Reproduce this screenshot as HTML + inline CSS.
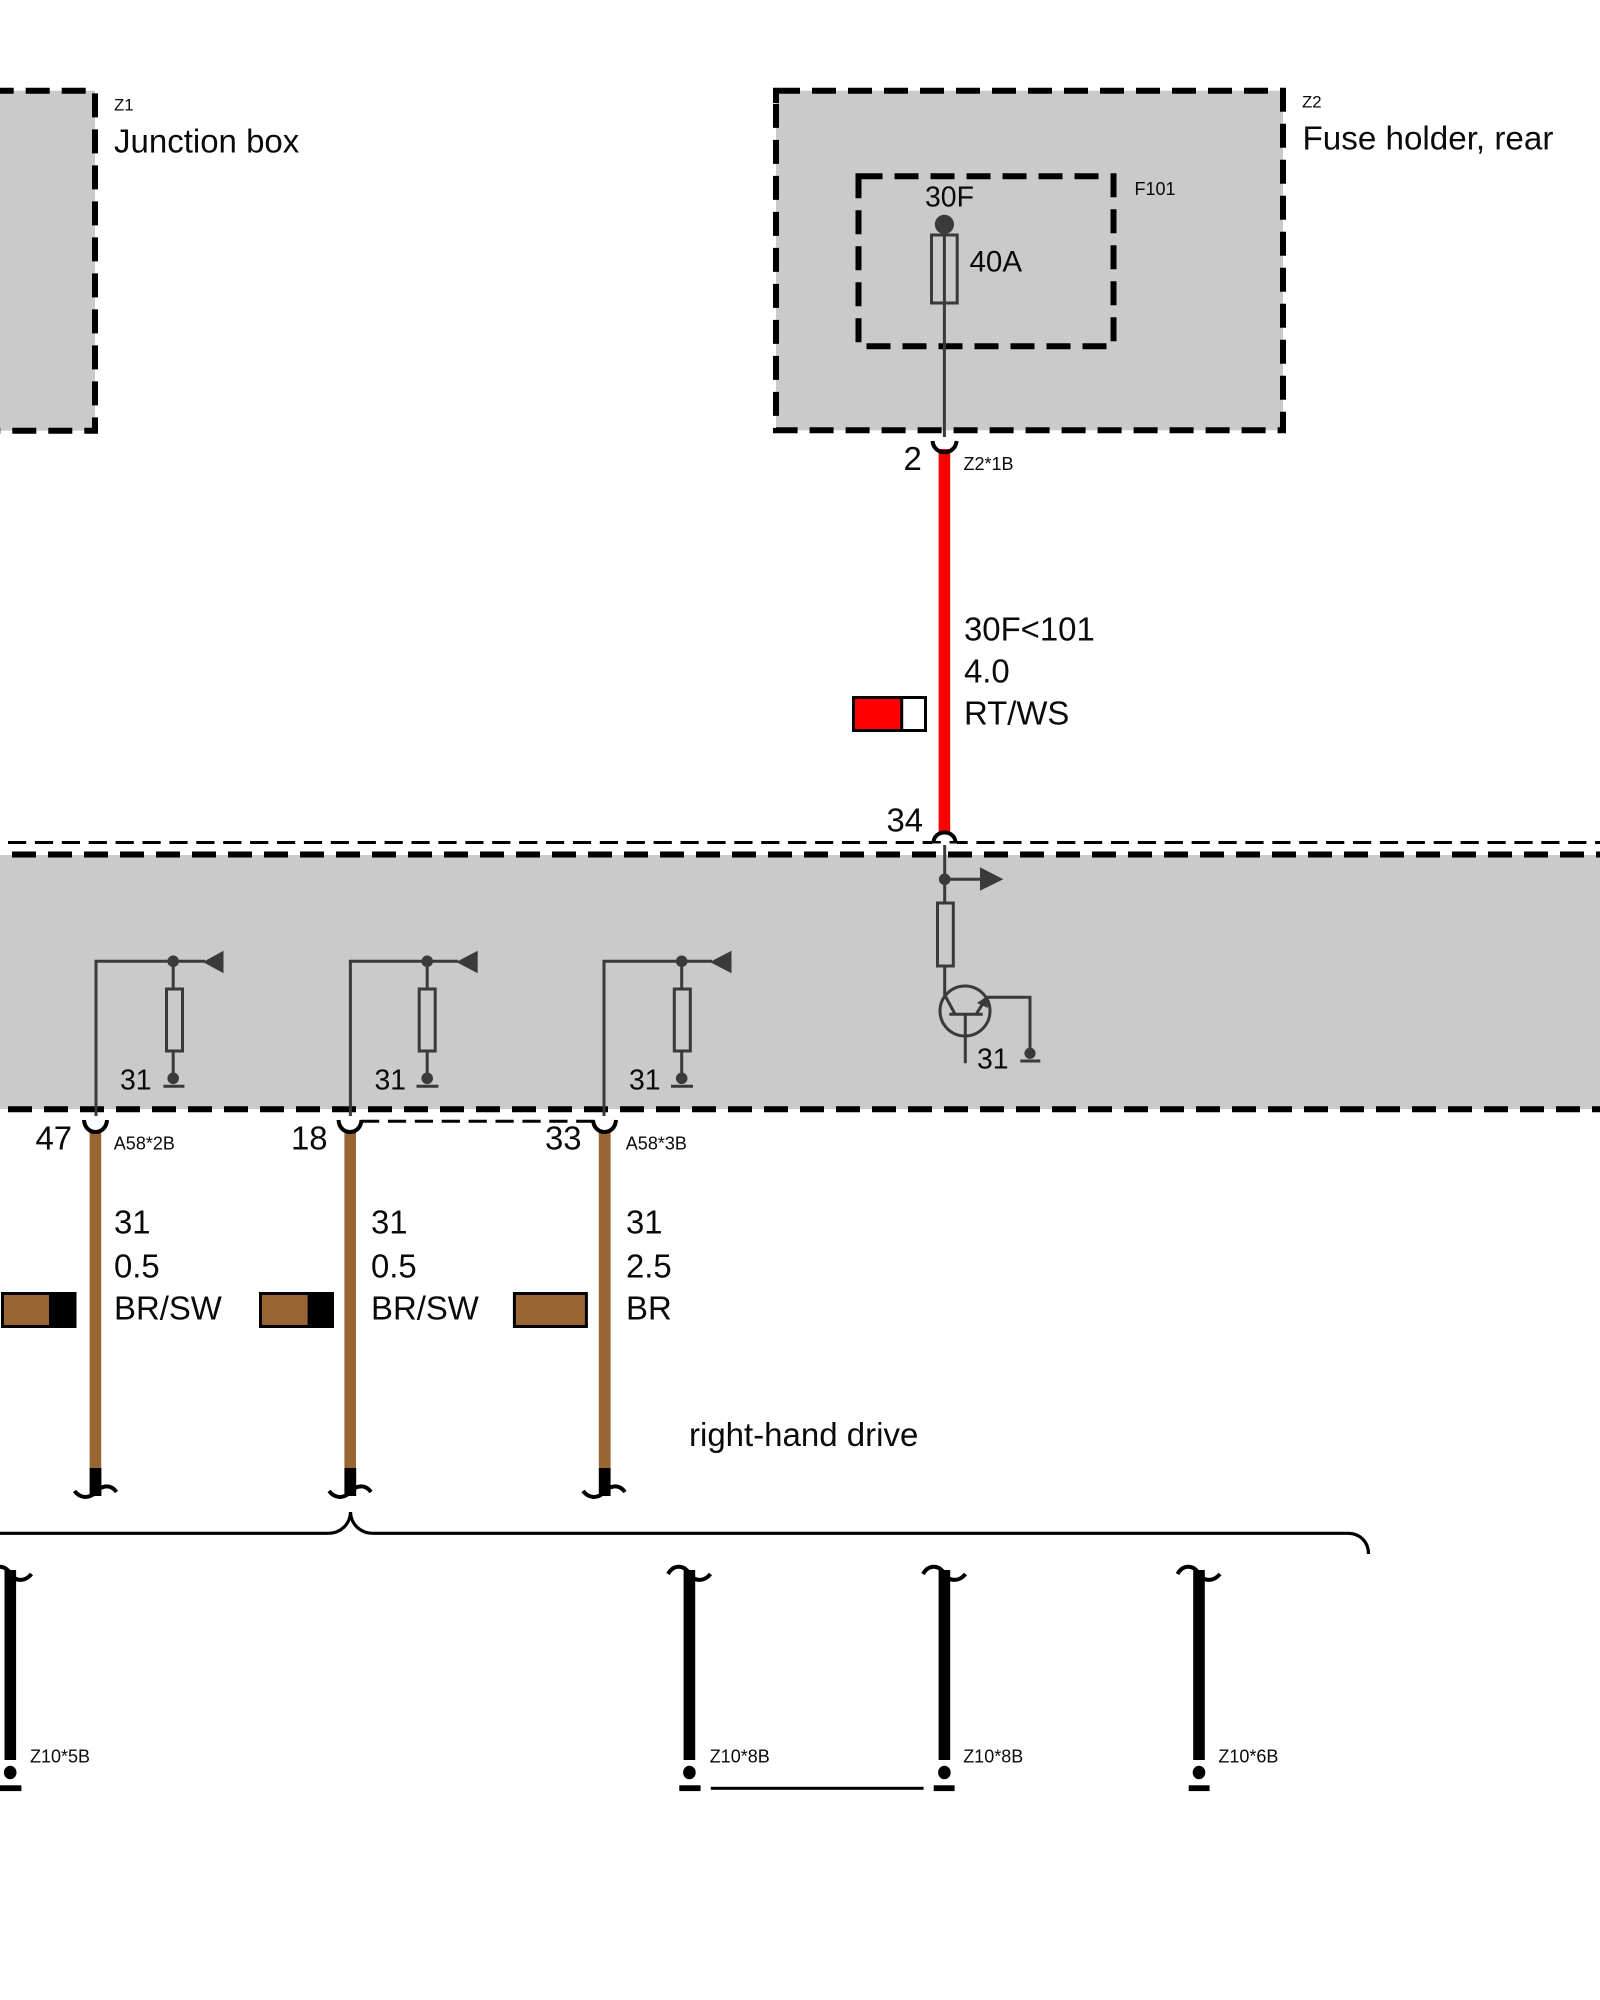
<!DOCTYPE html>
<html><head><meta charset="utf-8"><style>
html,body{margin:0;padding:0;background:#fff}
svg{display:block}
text{font-family:"Liberation Sans",sans-serif;fill:#0a0a0a}
.l{font-size:32.9px}.m{font-size:28.4px}.s{font-size:18px}
.d{fill:none;stroke:#000;stroke-width:6;stroke-dasharray:24 12}
.t{fill:none;stroke:#000;stroke-width:3;stroke-dasharray:18.2 8.7}
.w{fill:none;stroke:#3a3a3a;stroke-width:3}
.k{fill:none;stroke:#000;stroke-width:4}
.f{fill:#3a3a3a}
</style></head><body>
<svg xmlns="http://www.w3.org/2000/svg" width="1600" height="2000" viewBox="0 0 1600 2000">
<rect width="1600" height="2000" fill="#fff"/>
<!-- gray areas -->
<rect x="0" y="90.7" width="95" height="340" fill="#cacaca"/>
<rect x="776" y="90.7" width="507" height="339.6" fill="#cacaca"/>
<rect x="0" y="855" width="1600" height="254" fill="#cacaca"/>
<!-- dashed borders -->
<path class="d" stroke-dashoffset="5.3" d="M-5 90.7H95V430.7H-5"/>
<rect class="d" x="776" y="90.7" width="507" height="339.6"/>
<path d="M776 88V103" stroke="#000" stroke-width="6"/>
<rect class="d" x="858.5" y="176.3" width="255" height="170"/>
<path class="d" stroke-dashoffset="20" d="M-4 854.5H1600"/>
<path class="d" d="M8 1109.3H1600"/>
<path class="t" d="M8 842.5H1600"/>
<path class="t" d="M361 1121.2H594"/>
<!-- fuse -->
<path class="w" d="M944.4 224V437"/>
<circle class="f" cx="944.4" cy="224.4" r="9.6"/>
<rect class="w" x="931.5" y="235" width="25.7" height="68"/>
<!-- red wire -->
<rect x="938.6" y="449" width="11.6" height="385" fill="#f00"/>
<path class="k" d="M932.5 441C934 456 955 456 956.6 441"/>
<path d="M932 843.5H957V851H932Z" fill="#fff"/>
<path class="k" d="M933.5 843C933.5 829 955.5 829 955.5 843"/>
<!-- red swatch -->
<rect x="853.5" y="697.5" width="72" height="33" fill="#fff" stroke="#000" stroke-width="3"/>
<rect x="855" y="699" width="46.5" height="30" fill="#f00"/>
<path d="M901.7 697V731" stroke="#000" stroke-width="3"/>
<!-- wire 34 circuit -->
<path class="w" d="M944.7 845V995L955 1014"/>
<circle class="f" cx="944.7" cy="879.3" r="5.8"/>
<path class="w" d="M944.7 879.3H982"/>
<path class="f" d="M980 867.3L1003.3 879.3L980 890.7Z"/>
<rect class="w" style="fill:#cacaca" x="937.5" y="903" width="15.8" height="63"/>
<circle class="w" cx="965" cy="1011" r="25"/>
<path class="w" d="M949.3 1014.3H982.7M965.3 1014V1063.3M976.7 1013.3L986.7 997.3H1030V1053"/>
<path class="f" d="M986.5 996.5L988 1008L977 1003Z"/>
<circle class="f" cx="1030" cy="1053.3" r="5.6"/>
<path class="w" d="M1020.3 1061H1040.3"/>
<!-- three wires circuits -->
<path class="w" d="M96 1116V961.3H205M173.2 961.3V1078"/>
<rect class="w" style="fill:#cacaca" x="166.5" y="989" width="16" height="62"/>
<circle class="f" cx="173.2" cy="961.3" r="5.8"/>
<circle class="f" cx="173.2" cy="1078.3" r="5.8"/>
<path class="f" d="M203 962L223.5 950.7V973.3Z"/>
<path class="w" d="M163.4 1086.3H184.4"/>
<path class="w" d="M350.4 1116V961.3H458M427.2 961.3V1078"/>
<rect class="w" style="fill:#cacaca" x="419.2" y="989" width="16" height="62"/>
<circle class="f" cx="427.2" cy="961.3" r="5.8"/>
<circle class="f" cx="427.2" cy="1078.3" r="5.8"/>
<path class="f" d="M456.2 962L477.7 950.7V973.3Z"/>
<path class="w" d="M416.5 1086.3H438.4"/>
<path class="w" d="M604 1116V961.3H712M681.7 961.3V1078"/>
<rect class="w" style="fill:#cacaca" x="674.3" y="989" width="16" height="62"/>
<circle class="f" cx="681.7" cy="961.3" r="5.8"/>
<circle class="f" cx="681.7" cy="1078.3" r="5.8"/>
<path class="f" d="M709.8 962L731.5 950.7V973.3Z"/>
<path class="w" d="M671 1086.3H693"/>
<!-- brown wires -->
<rect x="89.6" y="1130" width="11.6" height="338" fill="#996633"/>
<rect x="344.4" y="1130" width="11.6" height="338" fill="#996633"/>
<rect x="598.8" y="1130" width="11.8" height="338" fill="#996633"/>
<rect x="89.6" y="1468" width="11.8" height="28" fill="#000"/>
<rect x="344.4" y="1468" width="11.8" height="28" fill="#000"/>
<rect x="598.8" y="1468" width="11.8" height="28" fill="#000"/>
<path class="k" d="M84 1120C85 1136 106 1136 107 1120"/>
<path class="k" d="M338.5 1120C339.5 1136 360.5 1136 361.5 1120"/>
<path class="k" d="M593 1120C594 1136 615 1136 616 1120"/>
<!-- swatches -->
<rect x="2.5" y="1293.5" width="72.5" height="33" fill="#996633" stroke="#000" stroke-width="3"/><rect x="49" y="1292" width="27" height="36" fill="#000"/>
<rect x="260.5" y="1293.5" width="72" height="33" fill="#996633" stroke="#000" stroke-width="3"/><rect x="307.6" y="1292" width="26.2" height="36" fill="#000"/>
<rect x="514.4" y="1293.5" width="72" height="33" fill="#996633" stroke="#000" stroke-width="3"/>
<!-- tildes lower -->
<path class="k" stroke-width="3.5" d="M74.5 1491C80 1498 88 1499 95 1493C100 1486 110 1483 116.5 1492"/>
<path class="k" d="M329 1491C334.5 1498 342.5 1499 349.5 1493C354.5 1486 364.5 1483 371 1492"/>
<path class="k" d="M583 1491C588.5 1498 596.5 1499 603.5 1493C608.5 1486 618.5 1483 625 1492"/>
<!-- brace -->
<path class="k" style="stroke-width:3.2" d="M-2 1533.3H328C340 1533.3 350 1525 350.5 1512C351 1525 361 1533.3 373 1533.3H1348C1360 1533.3 1368.5 1542 1368.5 1554"/>
<!-- lower black wires -->
<g fill="#000">
<rect x="4.5" y="1570" width="11.6" height="190"/>
<rect x="683.6" y="1570" width="11.6" height="190"/>
<rect x="938.6" y="1570" width="11.6" height="190"/>
<rect x="1193.2" y="1570" width="11.6" height="190"/>
<ellipse cx="10.2" cy="1772.5" rx="6.3" ry="6.8"/>
<ellipse cx="689.4" cy="1772.5" rx="6.3" ry="6.8"/>
<ellipse cx="944.4" cy="1772.5" rx="6.3" ry="6.8"/>
<ellipse cx="1199" cy="1772.5" rx="6.3" ry="6.8"/>
<rect x="0" y="1785.3" width="21.4" height="5.8"/>
<rect x="679.3" y="1785.3" width="21.3" height="5.8"/>
<rect x="933.7" y="1785.3" width="20.9" height="5.8"/>
<rect x="1188.7" y="1785.3" width="20.9" height="5.8"/>
<rect x="710.8" y="1786.8" width="212.8" height="3"/>
</g>
<path class="k" d="M-11 1574C-6 1565 4 1564 10 1573C15 1582 25 1582 31.5 1574"/>
<path class="k" d="M668 1574C673 1565 683 1564 689 1573C694 1582 704 1582 710.5 1574"/>
<path class="k" d="M923 1574C928 1565 938 1564 944 1573C949 1582 959 1582 965.5 1574"/>
<path class="k" d="M1177.5 1574C1182.5 1565 1192.5 1564 1198.5 1573C1203.5 1582 1213.5 1582 1220 1574"/>
<!-- labels -->
<text x="114" y="110.7" style="font-size:16.8px">Z1</text>
<text x="114" y="152.7" style="font-size:33px">Junction box</text>
<text x="1302" y="107.7" style="font-size:16.8px">Z2</text>
<text x="1302.5" y="149.3" style="font-size:33.2px">Fuse holder, rear</text>
<text x="1134.5" y="195" class="s">F101</text>
<text x="925" y="206.7" class="m">30F</text>
<text x="969.5" y="271.7" class="m" style="font-size:29.5px">40A</text>
<text x="903.5" y="470" class="l">2</text>
<text x="963.5" y="470" class="s">Z2*1B</text>
<text x="964" y="640.7" class="l">30F&lt;101</text>
<text x="964" y="682.7" class="l">4.0</text>
<text x="964" y="724.3" class="l">RT/WS</text>
<text x="886.5" y="831.7" class="l">34</text>
<text x="977" y="1068.3" class="m">31</text>
<text x="120" y="1089.3" class="m">31</text>
<text x="374.5" y="1089.3" class="m">31</text>
<text x="629" y="1089.3" class="m">31</text>
<text x="35.5" y="1149.3" class="l">47</text>
<text x="291" y="1149.3" class="l">18</text>
<text x="545" y="1149.3" class="l">33</text>
<text x="113.8" y="1149.3" class="s">A58*2B</text>
<text x="625.8" y="1149.3" class="s">A58*3B</text>
<text x="114" y="1233.3" class="l">31</text>
<text x="114" y="1277.3" class="l">0.5</text>
<text x="114" y="1319.3" class="l">BR/SW</text>
<text x="371" y="1233.3" class="l">31</text>
<text x="371" y="1277.3" class="l">0.5</text>
<text x="371" y="1319.3" class="l">BR/SW</text>
<text x="626" y="1233.3" class="l">31</text>
<text x="626" y="1277.3" class="l">2.5</text>
<text x="626" y="1319.3" class="l">BR</text>
<text x="689" y="1446" style="font-size:33px">right-hand drive</text>
<text x="30" y="1762.7" class="s">Z10*5B</text>
<text x="709.7" y="1762.7" class="s">Z10*8B</text>
<text x="963.2" y="1762.7" class="s">Z10*8B</text>
<text x="1218.4" y="1762.7" class="s">Z10*6B</text>
</svg>
</body></html>
